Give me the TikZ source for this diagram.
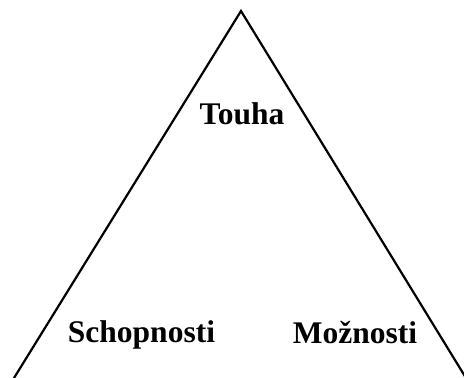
\documentclass[tikz,border=0pt]{standalone}
\usepackage{fontspec}
\setmainfont{Liberation Serif}
\usetikzlibrary{positioning}

\begin{document}
\begin{tikzpicture}[x=1pt,y=-1pt,every node/.style={outer sep=0pt,inner sep=0pt},
 side/.style={line width=2.2pt,line cap=round},
 label/.style={anchor=base,font=\fontsize{31.5}{38}\selectfont\bfseries}]
 \useasboundingbox (0,0) rectangle (464,378);
 \clip (0,0) rectangle (464,378);

  \coordinate (top) at (241,11);
  \coordinate (footL) at (14,378);
  \coordinate (footR) at (466,378);
  \draw[side] (footL) -- (top) -- (footR);

  \node[label] (touha) at (242,124) {Touha};
  \node[label] (schop) at (141.5,342) {Schopnosti};
  \node[label] (mozn) at (355,343) {Možnosti};

\end{tikzpicture}
\end{document}
